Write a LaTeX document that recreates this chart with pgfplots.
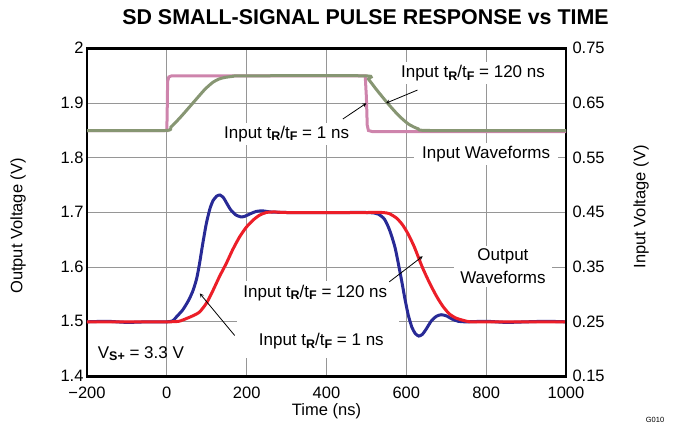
\documentclass[border=0pt]{standalone}
\usepackage{pgfplots}
\pgfplotsset{compat=1.18}
\usepackage{fontspec}
\setmainfont{Liberation Sans}
\definecolor{pinkin}{RGB}{206,132,172}
\definecolor{greenin}{RGB}{135,150,115}
\definecolor{blueout}{RGB}{40,42,150}
\definecolor{redout}{RGB}{236,30,40}
\definecolor{gridgray}{RGB}{150,150,150}
\newcommand\annfont{\fontsize{17bp}{20bp}\selectfont}
\newcommand\sub[1]{\raisebox{-0.3ex}{\fontsize{12.5bp}{12bp}\selectfont\bfseries #1}}
\begin{document}
\begin{tikzpicture}
\pgfplotsset{
  common/.style={
    scale only axis, width=479bp, height=328bp, at={(0,0)}, anchor=south west,
    xmin=-200, xmax=1000,
    major tick length=0pt,
    axis line style={line width=2.2bp, black},
    tick label style={font=\fontsize{16.5bp}{18bp}\selectfont},
    label style={font=\fontsize{16.5bp}{18bp}\selectfont},
  }
}
\begin{axis}[common,
  ymin=1.4, ymax=2,
  xtick={-200,0,200,400,600,800,1000},
  xticklabels={−200,0,200,400,600,800,1000},
  ytick={1.4,1.5,1.6,1.7,1.8,1.9,2},
  yticklabels={1.4,1.5,1.6,1.7,1.8,1.9,2},
  xticklabel style={yshift=-6.5bp},
  yticklabel style={yshift=0.5bp},
  grid=major, major grid style={gridgray, line width=0.9bp},
  xlabel={Time (ns)}, ylabel={Output Voltage (V)},
  xlabel style={at={(axis description cs:0.5,-0.105)}, anchor=center},
  ylabel style={at={(axis description cs:-0.144,0.459)}, anchor=center},
]
% white boxes behind the labels (they break the grid lines)
\fill[white] (axis cs:175,1.434) rectangle (axis cs:582,1.575);
\node[fill=white, inner sep=3bp, font=\annfont] at (axis cs:300,1.844) {Input t\sub{R}/t\sub{F} = 1 ns};
\node[fill=white, inner sep=3bp, font=\annfont] at (axis cs:767,1.955) {Input t\sub{R}/t\sub{F} = 120 ns};
\node[fill=white, inner xsep=8bp, inner ysep=3bp, font=\annfont] at (axis cs:800,1.807) {Input Waveforms};
\node[fill=white, inner xsep=6bp, inner ysep=3bp, align=center, font=\fontsize{17bp}{23bp}\selectfont] at (axis cs:842,1.601) {Output\\Waveforms};
\node[fill=white, inner sep=2bp, font=\annfont] at (axis cs:372,1.553) {Input t\sub{R}/t\sub{F} = 120 ns};
\node[fill=white, inner sep=2bp, font=\annfont] at (axis cs:387,1.464) {Input t\sub{R}/t\sub{F} = 1 ns};
\node[inner sep=0pt, font=\annfont] at (axis cs:-65,1.442) {V\sub{S+} = 3.3 V};
% output, input tR/tF = 1 ns
\addplot[blueout, line width=3bp, smooth, tension=0.4] coordinates {
(-200,1.500) (-150,1.501) (-100,1.499) (-50,1.500) (0,1.500) (15,1.502)
(24,1.509) (40,1.522) (55,1.540) (66,1.558) (75,1.580) (82,1.607) (90,1.643)
(99,1.680) (108,1.707) (116,1.722) (125,1.730) (133,1.732) (142,1.727)
(150,1.717) (160,1.705) (172,1.696) (185,1.692) (195,1.693) (210,1.698)
(224,1.702) (240,1.703) (260,1.701) (300,1.700) (350,1.700) (400,1.700)
(450,1.700) (500,1.700) (520,1.699) (530,1.697) (545,1.688) (558,1.668)
(572,1.635) (587,1.580) (597,1.540) (605,1.512) (614,1.490) (622,1.479)
(631,1.474) (640,1.477) (650,1.487) (662,1.501) (675,1.510) (687,1.513)
(700,1.511) (715,1.505) (730,1.501) (749,1.500) (800,1.501) (850,1.499)
(900,1.500) (950,1.501) (1000,1.500)};
% output, input tR/tF = 120 ns
\addplot[redout, line width=3bp, smooth, tension=0.4] coordinates {
(-200,1.500) (-100,1.500) (0,1.500) (30,1.501) (49,1.506) (65,1.511)
(82,1.518) (100,1.535) (116,1.558) (132,1.583) (149,1.607) (165,1.632)
(182,1.655) (199,1.673) (216,1.686) (232,1.695) (249,1.700) (270,1.701)
(300,1.700) (400,1.700) (500,1.700) (540,1.700) (557,1.698) (575,1.690)
(590,1.678) (605,1.660) (620,1.637) (640,1.600) (657,1.573) (674,1.549)
(690,1.530) (707,1.515) (724,1.507) (741,1.503) (760,1.500) (800,1.500)
(900,1.500) (1000,1.500)};
% arrows for the output labels
\draw[-stealth, line width=0.8bp] (axis cs:557,1.573) -- (axis cs:641,1.620);
\draw[-stealth, line width=0.8bp] (axis cs:170,1.475) -- (axis cs:82.5,1.552);
\end{axis}
\begin{axis}[common,
  ymin=0.15, ymax=0.75,
  axis x line=none, axis y line*=right,
  ytick={0.15,0.25,0.35,0.45,0.55,0.65,0.75},
  yticklabels={0.15,0.25,0.35,0.45,0.55,0.65,0.75},
  yticklabel style={xshift=3bp, yshift=0.5bp},
  ylabel={Input Voltage (V)},
  ylabel style={at={(axis description cs:1.157,0.517)}, anchor=center},
]
% input, tR/tF = 1 ns
\addplot[pinkin, line width=3bp] coordinates {
(-200,0.600) (0,0.600) (1,0.640) (2,0.690) (5,0.698) (12,0.700)
(497,0.700) (500,0.660) (502,0.610) (505,0.600) (515,0.598) (1000,0.598)};
% input, tR/tF = 120 ns
\addplot[greenin, line width=3bp, smooth, tension=0.4] coordinates {
(-200,0.600) (-5,0.600) (10,0.606) (35,0.625) (65,0.650) (95,0.675)
(115,0.688) (130,0.694) (145,0.697) (165,0.699) (190,0.700) (495,0.700)
(505,0.694) (525,0.675) (553,0.650) (580,0.628) (605,0.612) (630,0.603)
(660,0.600) (1000,0.600)};
\draw[-stealth, line width=0.8bp] (axis cs:441,0.621) -- (axis cs:500,0.650);
\draw[-stealth, line width=0.8bp] (axis cs:628,0.674) -- (axis cs:549,0.650);
\end{axis}
\node[font=\fontsize{21.4bp}{24bp}\selectfont\bfseries] at (278.5bp,359bp) {SD SMALL-SIGNAL PULSE RESPONSE vs TIME};
\node[font=\fontsize{7.5bp}{8bp}\selectfont] at (568bp,-43bp) {G010};
\path[use as bounding box] (-87bp,-48.5bp) rectangle (587bp,376.5bp);
\end{tikzpicture}
\end{document}
